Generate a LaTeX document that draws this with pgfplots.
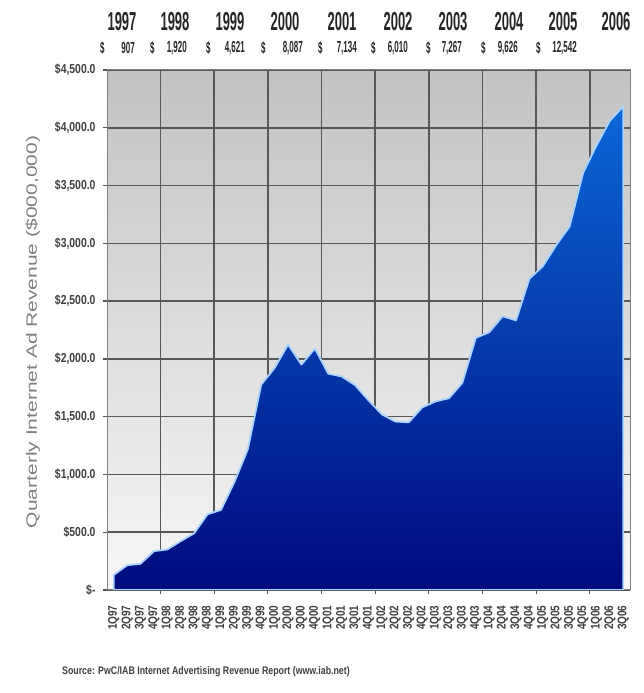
\documentclass[border=0pt]{standalone}
\usepackage{fontspec}
\setmainfont{Liberation Sans}
\newfontfamily\fA[FakeStretch=0.5]{Liberation Sans}
\newfontfamily\fB[FakeStretch=0.8]{Liberation Sans}
\newfontfamily\fC[FakeStretch=1.4]{Liberation Sans}
\usepackage{pgfplots}
\pgfplotsset{compat=1.18}
\definecolor{gridc}{HTML}{585858}
\definecolor{framec}{HTML}{808080}
\definecolor{bgtop}{HTML}{C2C2C2}
\definecolor{bgbot}{HTML}{F7F7F7}
\definecolor{areatop}{HTML}{0B68D8}
\definecolor{areamid}{HTML}{0632A0}
\definecolor{areabot}{HTML}{000A7E}
\definecolor{edgec}{HTML}{A8D4FF}
\definecolor{labc}{HTML}{404040}
\definecolor{titc}{HTML}{808080}
\begin{document}
\begin{tikzpicture}[x=1pt,y=1pt]
\useasboundingbox (0,0) rectangle (644,693);
\fill[white] (0,0) rectangle (644,693);
\begin{axis}[
  at={(107pt,103pt)}, anchor=south west,
  width=523pt, height=520pt, scale only axis,
  xmin=-0.5, xmax=38.5, ymin=0, ymax=4500,
  axis background/.style={top color=bgtop, bottom color=bgbot},
  axis line style={framec, line width=1pt},
  xtick pos=bottom, ytick pos=left,
  xtick={0,...,38},
  xticklabels={1Q97,2Q97,3Q97,4Q97,1Q98,2Q98,3Q98,4Q98,1Q99,2Q99,3Q99,4Q99,1Q00,2Q00,3Q00,4Q00,1Q01,2Q01,3Q01,4Q01,1Q02,2Q02,3Q02,4Q02,1Q03,2Q03,3Q03,4Q03,1Q04,2Q04,3Q04,4Q04,1Q05,2Q05,3Q05,4Q05,1Q06,2Q06,3Q06},
  x tick label style={rotate=90, anchor=east, font=\fB\bfseries\fontsize{12.5}{13}\selectfont, text=labc},
  xticklabel shift=12pt,
  xtick style={draw=none},
  extra x ticks={3.5,7.5,11.5,15.5,19.5,23.5,27.5,31.5,35.5},
  extra x tick labels={},
  extra x tick style={grid=major, major grid style={gridc, line width=1.6pt}, xtick style={draw=gridc, line width=1pt}, tick align=outside},
  ytick={0,500,...,4500},
  yticklabels={\$-,\$500.0,\$1{,}000.0,\$1{,}500.0,\$2{,}000.0,\$2{,}500.0,\$3{,}000.0,\$3{,}500.0,\$4{,}000.0,\$4{,}500.0},
  y tick label style={font=\fB\bfseries\fontsize{13}{14}\selectfont, text=labc},
  yticklabel shift=4pt,
  ymajorgrids,
  major grid style={gridc, line width=1.6pt},
  ytick style={gridc, line width=1.4pt},
  ytick align=outside,
  major tick length=4pt,
]
\addplot[draw=edgec, line width=1.8pt, line join=round,
  top color=areatop, middle color=areamid, bottom color=areabot] coordinates {
(0,130) (1,214) (2,227) (3,336) (4,351) (5,423) (6,491) (7,656)
(8,693) (9,934) (10,1217) (11,1777) (12,1922) (13,2124) (14,1951) (15,2090)
(16,1872) (17,1848) (18,1773) (19,1641) (20,1520) (21,1458) (22,1451) (23,1580)
(24,1632) (25,1660) (26,1793) (27,2182) (28,2230) (29,2369) (30,2333) (31,2694)
(32,2802) (33,2985) (34,3147) (35,3608) (36,3848) (37,4061) (38,4186)
} \closedcycle;
\end{axis}
% year labels
\begin{scope}[every node/.style={font=\fA\bfseries\fontsize{26}{28}\selectfont, text=black!85, inner sep=0pt}]
\node at (122,671) {1997};
\node at (175,671) {1998};
\node at (230,671) {1999};
\node at (285,671) {2000};
\node at (342,671) {2001};
\node at (398,671) {2002};
\node at (453,671) {2003};
\node at (509,671) {2004};
\node at (563,671) {2005};
\node at (616,671) {2006};
\end{scope}
% totals
\begin{scope}[every node/.style={font=\fA\bfseries\fontsize{16}{18}\selectfont, text=black!85, inner sep=0pt}]
\node[anchor=west] at (100,645) {\$};
\node[anchor=east] at (135,645) {907};
\node[anchor=west] at (150,645) {\$};
\node[anchor=east] at (187,645) {1,920};
\node[anchor=west] at (206,645) {\$};
\node[anchor=east] at (245,645) {4,621};
\node[anchor=west] at (261,645) {\$};
\node[anchor=east] at (303,645) {8,087};
\node[anchor=west] at (318,645) {\$};
\node[anchor=east] at (357,645) {7,134};
\node[anchor=west] at (371,645) {\$};
\node[anchor=east] at (408,645) {6,010};
\node[anchor=west] at (426,645) {\$};
\node[anchor=east] at (462,645) {7,267};
\node[anchor=west] at (481,645) {\$};
\node[anchor=east] at (518,645) {9,626};
\node[anchor=west] at (536,645) {\$};
\node[anchor=east] at (577,645) {12,542};
\end{scope}
\node[rotate=90, font=\fC\fontsize{15}{16}\selectfont, text=titc, inner sep=0pt] at (33,361) {Quarterly Internet Ad Revenue (\$000,000)};
\node[anchor=west, font=\fB\bfseries\fontsize{11}{12}\selectfont, text=labc, inner sep=0pt] at (62,21) {Source: PwC/IAB Internet Advertising Revenue Report (www.iab.net)};
\end{tikzpicture}
\end{document}
